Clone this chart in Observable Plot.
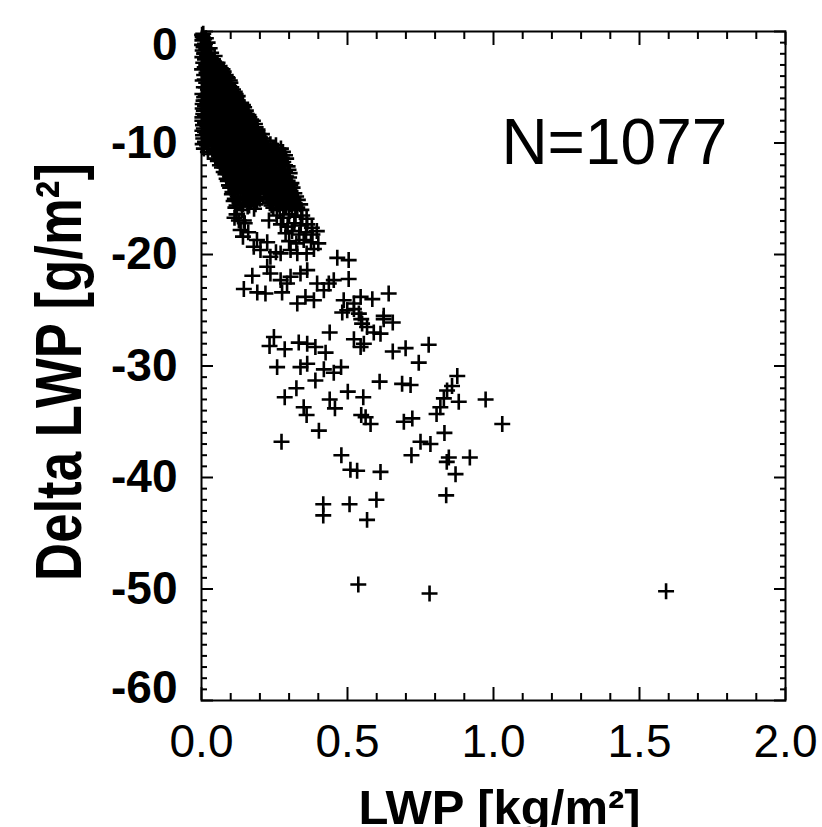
<!DOCTYPE html>
<html><head><meta charset="utf-8">
<script src="https://cdn.jsdelivr.net/npm/d3@7"></script>
<script src="https://cdn.jsdelivr.net/npm/@observablehq/plot@0.6"></script>
<style>html,body{margin:0;padding:0;background:#fff;} svg{display:block;}</style>
</head><body><div id="chart"></div>
<script>
// ---- axis ticks and labels ----
const xTicks = [0, 0.5, 1, 1.5, 2];
const xTickLabels = ["0.0", "0.5", "1.0", "1.5", "2.0"];
const yTicks = [0, -10, -20, -30, -40, -50, -60];
const yTickLabels = ["0", "-10", "-20", "-30", "-40", "-50", "-60"];
const xLabel = "LWP [kg/m²]";
const yLabel = "Delta LWP [g/m²]";
const countLabel = ["N=1077"];
const countPos = [1.027, -11.84];

// ---- data: [LWP kg/m², Delta LWP g/m²] ----
const coreCluster = [
[0.002,-0.3],[0.006,-0.2],[0.004,-0.5],
[0.003,-0.8],[0.009,-0.7],[0.015,-0.6],
[0.002,-1.2],[0.012,-1.1],[0.021,-1.0],[0.007,-1.4],
[0.004,-1.7],[0.016,-1.6],[0.028,-1.5],[0.01,-1.9],
[0.003,-2.3],[0.019,-2.1],[0.033,-1.9],[0.045,-2.2],[0.012,-2.5],
[0.006,-2.8],[0.025,-2.7],[0.04,-2.6],[0.055,-2.8],[0.016,-3.0],
[0.002,-3.4],[0.03,-3.2],[0.047,-3.3],[0.062,-3.1],[0.021,-3.5],[0.072,-3.4],
[0.009,-3.9],[0.036,-3.8],[0.052,-4.0],[0.068,-3.8],[0.083,-3.9],[0.025,-4.1],
[0.004,-4.4],[0.016,-4.6],[0.043,-4.3],[0.059,-4.5],[0.075,-4.4],[0.09,-4.2],[0.032,-4.7],[0.099,-4.6],
[0.008,-5.0],[0.022,-5.2],[0.049,-4.9],[0.064,-5.1],[0.08,-5.0],[0.095,-4.9],[0.108,-5.2],[0.037,-5.3],
[0.003,-5.6],[0.014,-5.8],[0.028,-5.5],[0.056,-5.7],[0.071,-5.5],[0.087,-5.6],[0.102,-5.7],[0.117,-5.6],[0.043,-5.9],
[0.007,-6.2],[0.02,-6.4],[0.034,-6.1],[0.062,-6.3],[0.078,-6.2],[0.094,-6.1],[0.109,-6.3],[0.124,-6.2],[0.136,-6.4],[0.05,-6.5],
[0.004,-6.9],[0.012,-6.7],[0.027,-7.0],[0.041,-6.8],[0.07,-6.9],[0.085,-6.7],[0.101,-6.8],[0.117,-7.0],[0.132,-6.9],[0.146,-6.8],[0.057,-7.1],
[0.006,-7.4],[0.018,-7.6],[0.034,-7.3],[0.049,-7.5],[0.064,-7.4],[0.078,-7.6],[0.093,-7.3],[0.109,-7.5],[0.125,-7.4],[0.14,-7.6],[0.155,-7.4],[0.164,-7.7],
[0.003,-8.0],[0.012,-8.2],[0.025,-7.9],[0.041,-8.1],[0.057,-8.0],[0.072,-8.2],[0.087,-7.9],[0.101,-8.1],[0.117,-8.0],[0.133,-8.2],[0.148,-7.9],[0.163,-8.1],[0.176,-8.0],
[0.008,-8.7],[0.02,-8.5],[0.034,-8.8],[0.05,-8.6],[0.065,-8.5],[0.08,-8.7],[0.095,-8.6],[0.11,-8.8],[0.125,-8.5],[0.141,-8.7],[0.156,-8.6],[0.171,-8.8],[0.185,-8.6],
[0.005,-9.3],[0.018,-9.1],[0.03,-9.4],[0.045,-9.2],[0.06,-9.1],[0.075,-9.3],[0.09,-9.2],[0.105,-9.4],[0.12,-9.1],[0.135,-9.3],[0.15,-9.2],[0.165,-9.4],[0.18,-9.1],[0.195,-9.3],[0.207,-9.2],
[0.012,-9.9],[0.026,-9.7],[0.04,-10.0],[0.055,-9.8],[0.07,-9.7],[0.085,-9.9],[0.1,-9.8],[0.115,-10.0],[0.13,-9.7],[0.145,-9.9],[0.16,-9.8],[0.175,-10.0],[0.19,-9.7],[0.204,-9.9],[0.218,-9.8],
[0.008,-10.5],[0.035,-10.3],[0.05,-10.6],[0.064,-10.4],[0.079,-10.3],[0.094,-10.5],[0.109,-10.4],[0.124,-10.6],[0.139,-10.3],[0.154,-10.5],[0.169,-10.4],[0.184,-10.6],[0.199,-10.3],[0.214,-10.5],[0.229,-10.4],[0.243,-10.6],[0.255,-10.2],
[0.045,-11.0],[0.06,-11.2],[0.074,-10.9],[0.089,-11.1],[0.104,-11.0],[0.119,-11.2],[0.134,-10.9],[0.149,-11.1],[0.164,-11.0],[0.179,-11.2],[0.194,-10.9],[0.209,-11.1],[0.224,-11.0],[0.239,-11.2],[0.254,-10.9],[0.268,-11.1],[0.279,-10.8],
[0.056,-11.6],[0.07,-11.8],[0.085,-11.5],[0.1,-11.7],[0.115,-11.6],[0.13,-11.8],[0.145,-11.5],[0.16,-11.7],[0.175,-11.6],[0.19,-11.8],[0.205,-11.5],[0.22,-11.7],[0.235,-11.6],[0.25,-11.8],[0.265,-11.5],[0.28,-11.7],[0.29,-11.4],
[0.07,-12.2],[0.088,-12.4],[0.104,-12.1],[0.12,-12.3],[0.136,-12.2],[0.152,-12.4],[0.168,-12.1],[0.184,-12.3],[0.2,-12.2],[0.216,-12.4],[0.232,-12.1],[0.248,-12.3],[0.264,-12.2],[0.28,-12.4],[0.295,-12.1],
[0.082,-12.8],[0.098,-13.0],[0.114,-12.7],[0.13,-12.9],[0.146,-12.8],[0.162,-13.0],[0.178,-12.7],[0.194,-12.9],[0.21,-12.8],[0.226,-13.0],[0.242,-12.7],[0.258,-12.9],[0.274,-12.8],[0.29,-13.0],[0.302,-12.7],
[0.09,-13.4],[0.108,-13.6],[0.125,-13.3],[0.142,-13.5],[0.159,-13.4],[0.176,-13.6],[0.193,-13.3],[0.21,-13.5],[0.227,-13.4],[0.244,-13.6],[0.261,-13.3],[0.278,-13.5],[0.295,-13.4],[0.308,-13.6],
[0.098,-14.0],[0.116,-14.2],[0.134,-13.9],[0.152,-14.1],[0.17,-14.0],[0.188,-14.2],[0.206,-13.9],[0.224,-14.1],[0.242,-14.0],[0.26,-14.2],[0.278,-13.9],[0.296,-14.1],[0.312,-14.0],
[0.104,-14.6],[0.124,-14.8],[0.144,-14.5],[0.164,-14.7],[0.184,-14.6],[0.222,-14.8],[0.242,-14.5],[0.262,-14.7],[0.282,-14.6],[0.302,-14.8],[0.318,-14.5],
[0.11,-15.2],[0.13,-15.4],[0.15,-15.1],[0.17,-15.3],[0.19,-15.2],[0.234,-15.4],[0.255,-15.1],[0.275,-15.3],[0.295,-15.2],[0.315,-15.4],[0.33,-15.1],
[0.116,-15.8],[0.138,-16.0],[0.158,-15.7],[0.18,-15.9],[0.246,-15.8],[0.268,-16.0],[0.29,-15.7],[0.31,-15.9],[0.328,-15.8],[0.342,-16.0]
];

const coreFill = [
[0.009,-2.0],[0.026,-2.4],[0.037,-2.5],
[0.011,-3.2],[0.034,-2.9],[0.05,-3.0],[0.066,-3.3],
[0.017,-3.7],[0.044,-3.6],[0.06,-3.7],[0.076,-3.6],[0.088,-4.1],
[0.011,-4.3],[0.028,-4.4],[0.051,-4.7],[0.067,-4.2],[0.083,-4.7],[0.097,-4.4],
[0.015,-5.0],[0.03,-4.9],[0.042,-5.1],[0.057,-5.4],[0.072,-5.3],[0.088,-5.3],[0.102,-5.0],[0.114,-5.4],
[0.009,-5.9],[0.021,-5.6],[0.036,-5.8],[0.049,-5.5],[0.063,-6.0],[0.079,-5.8],[0.095,-5.9],[0.11,-5.9],[0.124,-5.8],
[0.004,-6.5],[0.014,-6.2],[0.027,-6.3],[0.042,-6.4],[0.056,-6.2],[0.07,-6.5],[0.086,-6.4],[0.101,-6.5],[0.116,-6.4],[0.13,-6.6],[0.142,-6.6],
[0.008,-7.1],[0.02,-6.9],[0.035,-7.1],[0.049,-6.9],[0.064,-7.2],[0.078,-7.0],[0.093,-7.1],[0.109,-7.2],[0.124,-7.1],[0.139,-7.2],[0.152,-7.1],
[0.003,-7.7],[0.012,-7.5],[0.026,-7.8],[0.041,-7.6],[0.056,-7.8],[0.071,-7.7],[0.086,-7.8],[0.101,-7.7],[0.117,-7.8],[0.132,-7.7],[0.148,-7.7],[0.161,-7.5],[0.17,-7.9],
[0.005,-8.4],[0.019,-8.2],[0.033,-8.4],[0.049,-8.3],[0.064,-8.4],[0.079,-8.3],[0.094,-8.4],[0.109,-8.3],[0.125,-8.3],[0.14,-8.4],[0.155,-8.3],[0.17,-8.4],[0.183,-8.3],[0.192,-8.8],
[0.003,-8.9],[0.012,-9.0],[0.027,-8.9],[0.042,-9.0],[0.057,-8.9],[0.072,-9.0],[0.087,-8.9],[0.102,-9.0],[0.117,-8.9],[0.133,-9.0],[0.148,-8.9],[0.163,-9.0],[0.178,-8.9],[0.192,-9.0],[0.2,-9.5],
[0.006,-9.6],[0.024,-9.5],[0.038,-9.6],[0.052,-9.5],[0.067,-9.6],[0.082,-9.5],[0.097,-9.6],[0.112,-9.5],[0.127,-9.6],[0.142,-9.5],[0.157,-9.6],[0.172,-9.5],[0.187,-9.6],[0.21,-9.6],[0.222,-10.1],
[0.004,-10.1],[0.019,-10.2],[0.047,-10.1],[0.062,-10.2],[0.077,-10.1],[0.092,-10.2],[0.107,-10.1],[0.122,-10.2],[0.137,-10.1],[0.152,-10.2],[0.167,-10.1],[0.182,-10.2],[0.197,-10.1],[0.212,-10.2],[0.236,-10.1],[0.248,-10.4],
[0.022,-10.8],[0.043,-10.7],[0.057,-10.8],[0.072,-10.7],[0.087,-10.8],[0.102,-10.7],[0.117,-10.8],[0.132,-10.7],[0.147,-10.8],[0.162,-10.7],[0.177,-10.8],[0.192,-10.7],[0.207,-10.8],[0.222,-10.7],[0.237,-10.8],[0.262,-10.7],[0.272,-10.5],
[0.052,-11.4],[0.067,-11.3],[0.082,-11.4],[0.097,-11.3],[0.112,-11.4],[0.127,-11.3],[0.142,-11.4],[0.157,-11.3],[0.172,-11.4],[0.187,-11.3],[0.202,-11.4],[0.217,-11.3],[0.232,-11.4],[0.247,-11.3],[0.262,-11.4],[0.275,-11.3],[0.286,-11.1],
[0.063,-12.0],[0.078,-11.9],[0.094,-12.0],[0.11,-11.9],[0.126,-12.0],[0.142,-11.9],[0.158,-12.0],[0.174,-11.9],[0.19,-12.0],[0.206,-11.9],[0.222,-12.0],[0.238,-11.9],[0.254,-12.0],[0.27,-11.9],[0.286,-12.0],
[0.076,-12.6],[0.094,-12.5],[0.11,-12.6],[0.126,-12.5],[0.142,-12.6],[0.158,-12.5],[0.174,-12.6],[0.19,-12.5],[0.206,-12.6],[0.222,-12.5],[0.238,-12.6],[0.254,-12.5],[0.27,-12.6],[0.286,-12.5],[0.298,-12.4],
[0.086,-13.2],[0.104,-13.1],[0.12,-13.2],[0.136,-13.1],[0.152,-13.2],[0.168,-13.1],[0.185,-13.2],[0.202,-13.1],[0.218,-13.2],[0.235,-13.1],[0.252,-13.2],[0.27,-13.1],[0.285,-13.2],[0.3,-13.1],
[0.094,-13.8],[0.112,-13.7],[0.13,-13.8],[0.148,-13.7],[0.166,-13.8],[0.184,-13.7],[0.2,-13.8],[0.218,-13.7],[0.235,-13.8],[0.252,-13.7],[0.27,-13.8],[0.288,-13.7],[0.304,-13.8],
[0.106,-14.4],[0.125,-14.3],[0.143,-14.4],[0.161,-14.3],[0.179,-14.4],[0.197,-14.3],[0.215,-14.4],[0.233,-14.3],[0.251,-14.4],[0.269,-14.3],[0.287,-14.4],[0.305,-14.3],
[0.114,-15.0],[0.134,-14.9],[0.154,-15.0],[0.174,-14.9],[0.2,-15.0],[0.228,-14.9],[0.25,-14.9],[0.27,-15.0],[0.29,-14.9],[0.31,-15.0],[0.324,-14.8],
[0.12,-15.6],[0.142,-15.5],[0.163,-15.6],[0.185,-15.5],[0.24,-15.6],[0.262,-15.5],[0.283,-15.6],[0.303,-15.5],[0.322,-15.6],[0.338,-15.5]
];

const midScatter = [
[0.12,-16.4],[0.113,-16.7],[0.128,-16.95],[0.145,-16.95],[0.134,-17.8],[0.231,-16.95],[0.258,-16.5],[0.28,-16.7],[0.3,-16.4],[0.322,-16.6],[0.345,-16.5],[0.36,-16.8],
[0.148,-17.2],[0.272,-17.3],[0.295,-17.5],[0.318,-17.2],[0.34,-17.4],[0.362,-17.3],[0.378,-17.6],
[0.142,-18.4],[0.16,-18.0],[0.288,-18.1],[0.31,-17.9],[0.335,-18.2],[0.358,-18.0],[0.38,-18.2],[0.395,-17.9],
[0.179,-19.3],[0.19,-18.7],[0.202,-19.6],[0.225,-18.9],[0.3,-18.8],[0.325,-19.0],[0.35,-18.7],[0.375,-18.9],[0.4,-19.0],
[0.271,-19.9],[0.305,-19.6],[0.328,-19.9],[0.36,-19.9],[0.385,-19.5],[0.236,-20.2],[0.255,-19.8],
[0.465,-20.3],[0.504,-20.5],[0.504,-22.2],[0.453,-22.3],[0.436,-22.6],[0.419,-23.2],[0.641,-23.5],[0.624,-25.5],
[0.585,-24.0],[0.545,-23.8],[0.522,-24.4],[0.487,-24.1],[0.499,-25.0],[0.385,-24.1],[0.356,-23.8],[0.328,-24.4],
[0.276,-23.4],[0.293,-22.6],[0.191,-23.4],[0.219,-23.5],[0.145,-23.1],[0.174,-21.9],[0.236,-21.7],[0.225,-21.1],
[0.271,-22.3],[0.305,-22.0],[0.339,-21.7],[0.362,-21.4],[0.396,-22.6],
[0.539,-25.3],[0.482,-25.2],[0.522,-24.9],[0.547,-25.8]
];

const outerScatter = [
[0.537,-49.6],[0.781,-50.4],[1.591,-50.2],[1.030,-35.2],[0.973,-33.0],[0.919,-38.2],[0.870,-39.7],[0.838,-41.6],
[0.847,-38.2],[0.840,-38.6],[0.832,-36.0],[0.881,-33.2],[0.876,-30.9],[0.858,-31.8],[0.841,-32.2],[0.830,-32.9],
[0.818,-33.7],[0.805,-34.3],[0.784,-37.0],[0.750,-36.8],[0.719,-38.0],[0.722,-34.7],[0.693,-35.0],[0.716,-31.7],
[0.687,-31.6],[0.610,-31.4],[0.778,-28.1],[0.744,-29.7],[0.699,-28.4],[0.655,-28.7],[0.655,-26.1],[0.624,-25.8],
[0.613,-27.1],[0.590,-27.0],[0.567,-26.5],[0.550,-26.2],[0.556,-28.0],[0.522,-27.6],[0.545,-28.3],[0.439,-27.0],
[0.248,-27.4],[0.233,-28.2],[0.285,-28.5],[0.333,-27.9],[0.362,-28.0],[0.390,-28.3],[0.425,-28.8],[0.259,-30.1],
[0.339,-30.1],[0.362,-29.8],[0.419,-30.3],[0.453,-30.6],[0.478,-30.1],[0.390,-31.3],[0.325,-32.0],[0.285,-32.8],
[0.350,-33.7],[0.360,-34.4],[0.439,-33.0],[0.457,-33.8],[0.501,-32.3],[0.554,-32.8],[0.547,-34.4],[0.562,-34.6],
[0.579,-35.2],[0.402,-35.8],[0.274,-36.8],[0.479,-38.0],[0.510,-39.3],[0.533,-39.4],[0.613,-39.5],[0.417,-42.4],
[0.417,-43.4],[0.507,-42.4],[0.599,-42.0],[0.567,-43.8]
];

const points = [...coreCluster, ...coreFill, ...midScatter, ...outerScatter].map(([lwp, dlwp]) => ({lwp, dlwp}));

// minor tick positions
const xMinor = d3.range(21).filter(i => i % 5).map(i => i / 10);
const yMinor = d3.range(-60, 1).filter(v => v % 10 !== 0);

const noText = () => "";
function tickAxes(anchorX, anchorY) {
  return [
    Plot.axisX(xTicks, {anchor: anchorX, tickSize: -13, tickFormat: noText, label: null, strokeWidth: 2}),
    Plot.axisX(xMinor, {anchor: anchorX, tickSize: -7, tickFormat: noText, label: null, strokeWidth: 2}),
    Plot.axisY(yTicks, {anchor: anchorY, tickSize: -12, tickFormat: noText, label: null, strokeWidth: 2}),
    Plot.axisY(yMinor, {anchor: anchorY, tickSize: -6, tickFormat: noText, label: null, strokeWidth: 2})
  ];
}
const yLabelFor = d => yTickLabels[yTicks.indexOf(d)];
const yTickText = {anchor: "left", tickSize: 0, tickPadding: 24, tickFormat: yLabelFor, fontSize: 46, fontWeight: "bold", label: null};

const plot = Plot.plot({
  width: 822,
  height: 827,
  marginLeft: 201,
  marginRight: 37,
  marginTop: 31,
  marginBottom: 127,
  x: {domain: [0, 2]},
  y: {domain: [-60, 0]},
  style: {fontFamily: "'Liberation Sans', Arial, Helvetica, sans-serif", background: "#fff", color: "#000", overflow: "visible"},
  marks: [
    Plot.dot(points, {x: "lwp", y: "dlwp", symbol: d3.symbolPlus, r: 5.2, stroke: "#000", fill: "none", strokeWidth: 2.6}),
    ...tickAxes("bottom", "left"),
    ...tickAxes("top", "right"),
    Plot.axisX(xTicks, {anchor: "bottom", tickSize: 0, tickPadding: 24, tickFormat: (d, i) => xTickLabels[i], fontSize: 46, stroke: "#000", strokeWidth: 0.7, label: null}),
    Plot.axisY(yTicks.slice(1, -1), yTickText),
    Plot.axisY(yTicks.slice(0, 1), {...yTickText, dy: 14}),
    Plot.axisY(yTicks.slice(-1), {...yTickText, dy: -12}),
    Plot.frame({stroke: "#000", strokeWidth: 2}),
    Plot.text([xLabel], {frameAnchor: "bottom", dx: 6, dy: 123, lineAnchor: "bottom", fontSize: 49, fontWeight: "bold"}),
    Plot.text([yLabel], {frameAnchor: "left", textAnchor: "middle", rotate: -90, dx: -121, dy: 6, lineAnchor: "bottom", fontSize: 65, fontWeight: "bold"}),
    Plot.text(countLabel, {x: () => countPos[0], y: () => countPos[1], textAnchor: "start", lineAnchor: "bottom", fontSize: 64})
  ]
});
document.getElementById("chart").appendChild(plot);
d3.select(plot).selectAll("text").filter(function() { return this.textContent === yLabel; })
  .each(function() {
    const len = this.getComputedTextLength();
    const k = 418 / len;
    const t = this.getAttribute("transform");
    if (t && t.includes("rotate")) this.setAttribute("transform", t + ` scale(${k},1)`);
    else this.setAttribute("textLength", 418);
  });
</script>
</body></html>
